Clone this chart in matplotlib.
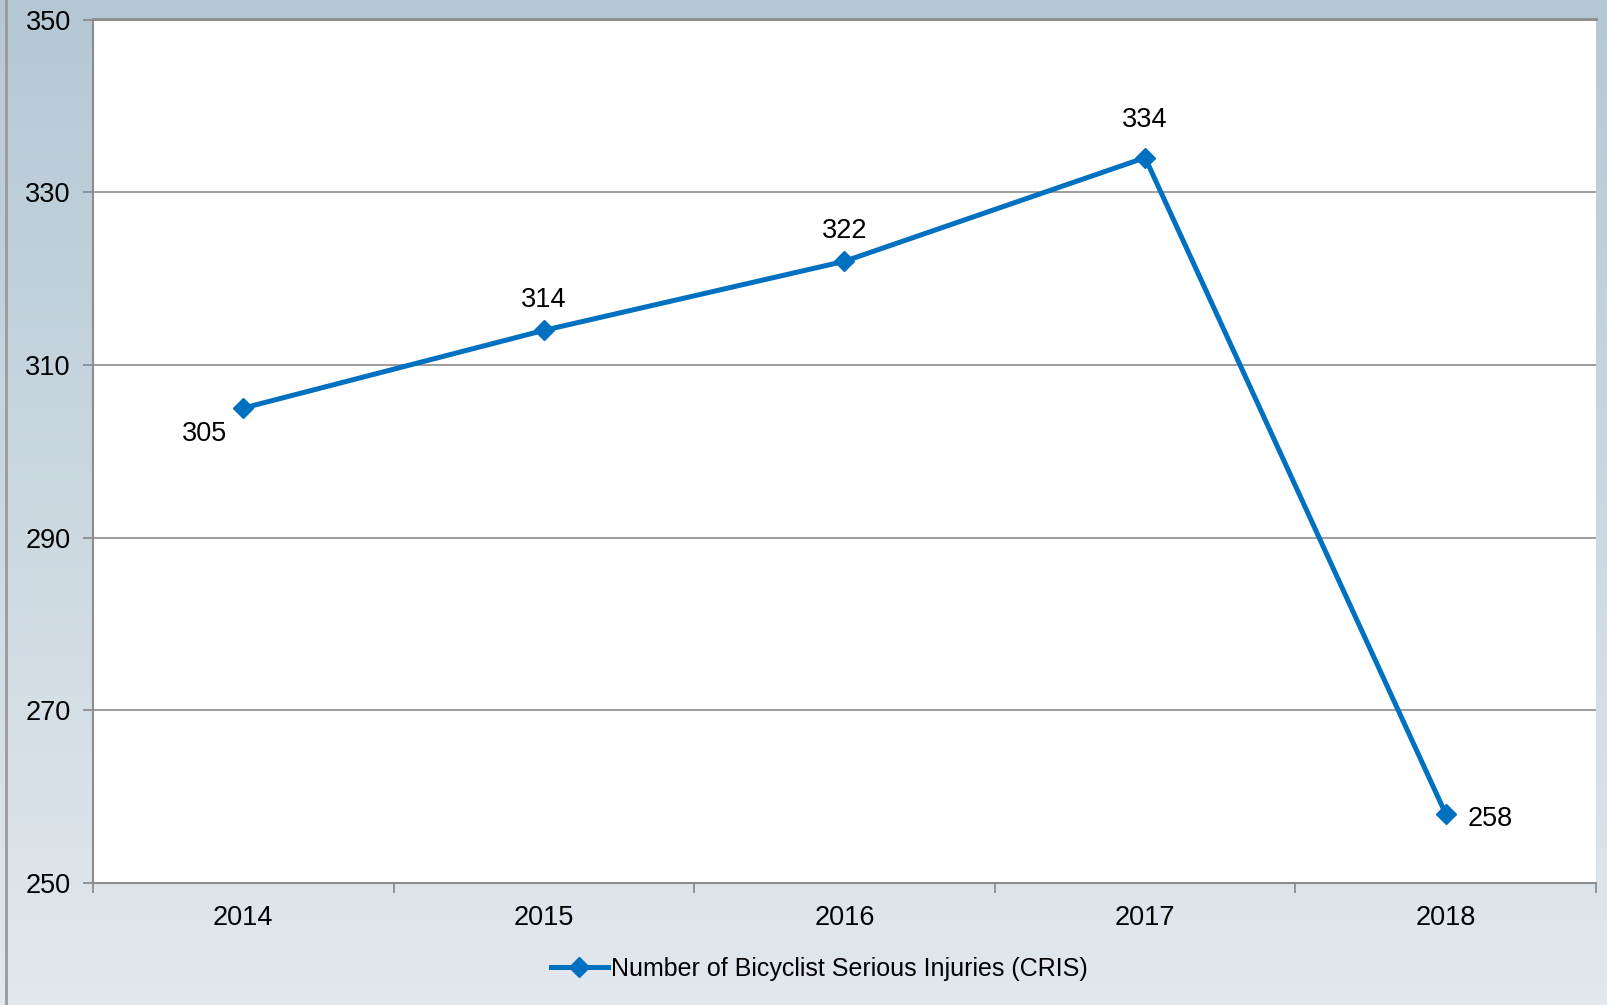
import numpy as np
import matplotlib.pyplot as plt

years = ["2014", "2015", "2016", "2017", "2018"]
injuries = [305, 314, 322, 334, 258]
series_name = "Number of Bicyclist Serious Injuries (CRIS)"
yticks = [250, 270, 290, 310, 330, 350]

# label offsets in points (dx, dy) relative to each point
label_offsets = [(-28, -19), (0, 22), (0, 22), (0, 27), (32, -4)]

plt.rcParams['font.family'] = ['Liberation Sans', 'DejaVu Sans']
blue = '#0070c0'
grey = '#8c8c8c'
num_fs = 19.5

fig = plt.figure(figsize=(16.08, 10.05), dpi=100)

# gradient background
bg = fig.add_axes([0, 0, 1, 1], zorder=-10)
top = np.array([180, 200, 212]) / 255
bot = np.array([226, 232, 237]) / 255
t = np.linspace(0, 1, 256)[:, None]
grad = top * (1 - t) + bot * t
bg.imshow(grad[:, None, :], aspect='auto', extent=[0, 1, 0, 1])
bg.axvline(6 / 1608, color='#9a9a9a', lw=2)
bg.set_xlim(0, 1)
bg.set_ylim(0, 1)
bg.axis('off')

ax = fig.add_axes([93 / 1608, 122 / 1005, 1503 / 1608, 863.5 / 1005])
ax.set_facecolor('white')
x = np.arange(len(years))
ax.plot(x, injuries, color=blue, lw=3.6, marker='D', ms=10.5, label=series_name,
        zorder=3, clip_on=False)

for xi, v, (dx, dy) in zip(x, injuries, label_offsets):
    ax.annotate(str(v), (xi, v), xytext=(dx, dy), textcoords='offset points',
                ha='center', va='center', fontsize=num_fs)

ax.set_xlim(-0.5, 4.5)
ax.set_ylim(250, 350)
ax.set_yticks(yticks)
ax.set_yticklabels([str(v) for v in yticks], fontsize=num_fs)
ax.set_xticks(x)
ax.set_xticklabels(years, fontsize=num_fs)
ax.set_xticks(np.arange(-0.5, 5, 1), minor=True)
ax.tick_params(axis='x', which='major', length=0, pad=16)
ax.tick_params(axis='x', which='minor', length=7, color=grey, width=1.3)
ax.tick_params(axis='y', length=7, color=grey, width=1.3, pad=9)

ax.grid(axis='y', color=grey, lw=1.2)
ax.set_axisbelow(True)
ax.spines['right'].set_visible(False)
ax.spines['top'].set_color(grey)
ax.spines['top'].set_linewidth(2)
ax.spines['left'].set_color(grey)
ax.spines['left'].set_linewidth(1.5)
ax.spines['bottom'].set_color(grey)
ax.spines['bottom'].set_linewidth(1.5)

fig.legend(loc='center', bbox_to_anchor=(819 / 1608, 0.036), frameon=False,
           fontsize=18, handlelength=2.3, handletextpad=0.1)

fig.savefig('out.png', dpi=100)
